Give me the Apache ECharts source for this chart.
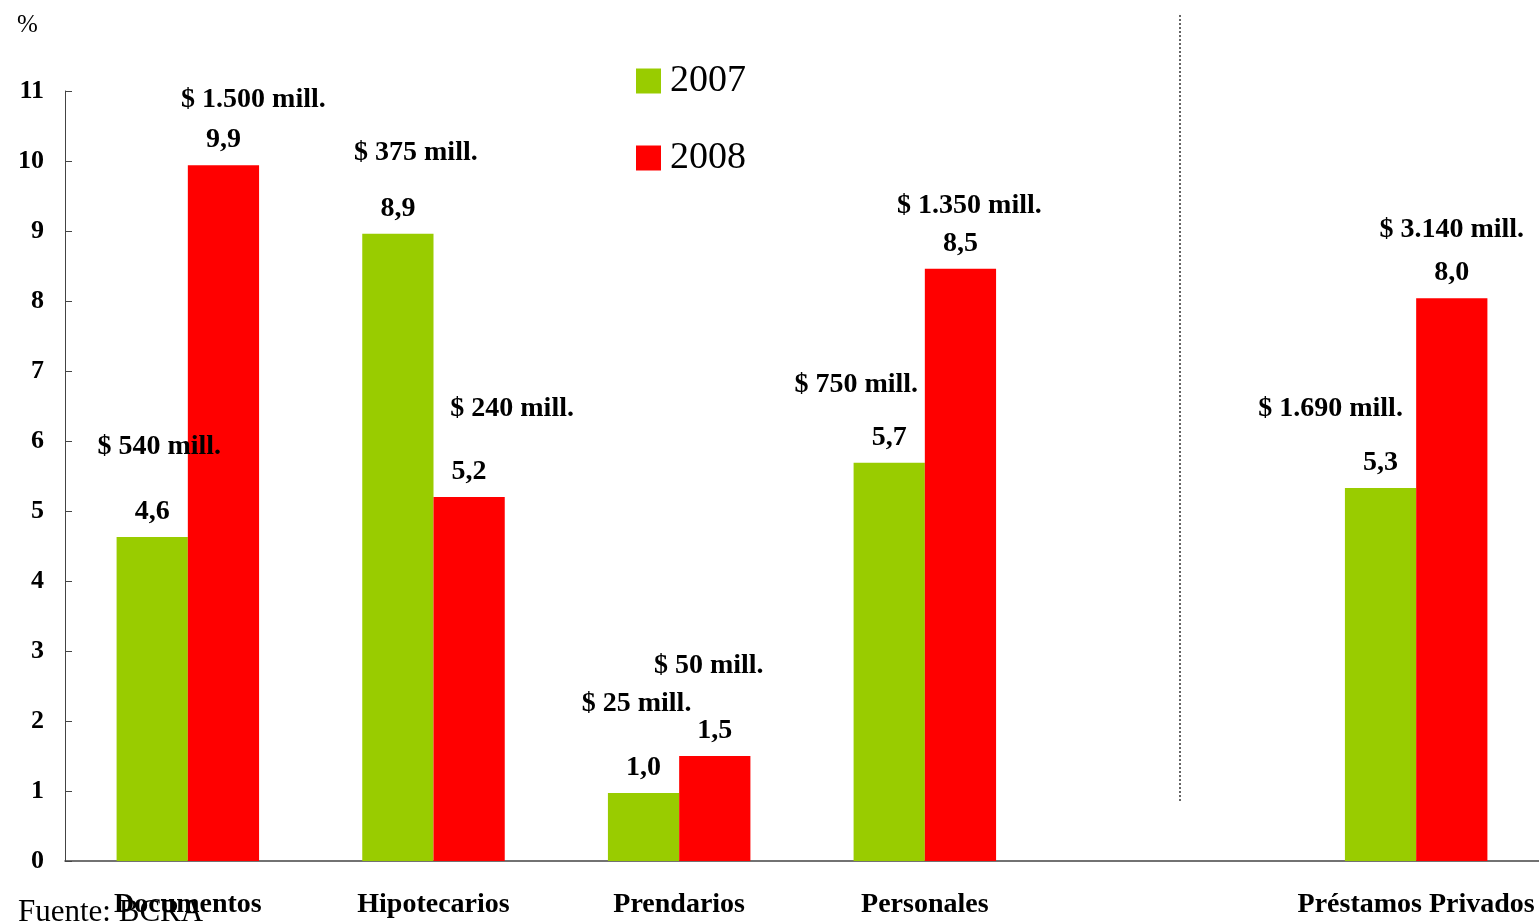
<!DOCTYPE html>
<html>
<head>
<meta charset="utf-8">
<script src="https://cdn.jsdelivr.net/npm/echarts@6/dist/echarts.min.js"></script>
<style>html,body{margin:0;padding:0;background:#fff}#c{width:1539px;height:921px}</style>
</head>
<body>
<div id="c"></div>
<script>
// ---- data ----
const categories = ['Documentos', 'Hipotecarios', 'Prendarios', 'Personales', '', 'Préstamos Privados'];
const values2007 = [4.63, 8.96, 0.97, 5.69, '-', 5.33];
const values2008 = [9.94, 5.20, 1.50, 8.46, '-', 8.04];
const valueLabels2007 = ['4,6', '8,9', '1,0', '5,7', '', '5,3'];
const valueLabels2008 = ['9,9', '5,2', '1,5', '8,5', '', '8,0'];
const amount2007 = ['$ 540 mill.', '$ 375 mill.', '$ 25 mill.', '$ 750 mill.', '', '$ 1.690 mill.'];
const amount2008 = ['$ 1.500 mill.', '$ 240 mill.', '$ 50 mill.', '$ 1.350 mill.', '', '$ 3.140 mill.'];
const yTicks = [0, 1, 2, 3, 4, 5, 6, 7, 8, 9, 10, 11];

// ---- label layout (style only) ----
const amountShiftX2007 = [7, 18, -7, -33, 0, -50];
const amountRise2007 = [92, 83, 91, 80, 0, 81];
const amountShiftX2008 = [30, 43, -6, 9, 0, 0];
const amountRise2008 = [67, 90, 92, 65, 0, 70];

const FONT = 'Liberation Serif';

function buildData(vals, vLabels, amounts, shiftX, rise) {
  return vals.map((v, i) => {
    if (v === '-') return '-';
    const lh = 2 * (rise[i] - 44);
    const dx = shiftX[i];
    const pad = dx >= 0 ? [0, 0, 0, 2 * dx] : [0, -2 * dx, 0, 0];
    return {
      value: v,
      label: {
        formatter: '{m|' + amounts[i] + '}\n{v|' + vLabels[i] + '}',
        rich: {
          m: { fontFamily: FONT, fontWeight: 'bold', fontSize: 28, color: '#000', lineHeight: lh, padding: pad },
          v: { fontFamily: FONT, fontWeight: 'bold', fontSize: 28, color: '#000', lineHeight: 34 }
        }
      }
    };
  });
}

const chart = echarts.init(document.getElementById('c'));
chart.setOption({
  animation: false,
  backgroundColor: '#fff',
  title: {
    text: '%', left: 17, top: 13, padding: [0, 0, 0, 0],
    textStyle: { fontFamily: FONT, fontWeight: 'normal', fontSize: 25, color: '#000' }
  },
  legend: {
    orient: 'vertical', left: 636, top: 61, padding: 0,
    icon: 'rect', itemWidth: 25, itemHeight: 25, itemGap: 37,
    textStyle: { fontFamily: FONT, fontSize: 38, color: '#000', lineHeight: 40, padding: [0, 0, 0, 4] },
    data: ['2007', '2008']
  },
  grid: { left: 65, right: 0, top: 91, bottom: 60, containLabel: false },
  xAxis: {
    type: 'category',
    data: categories,
    axisLine: { show: true, lineStyle: { color: '#444', width: 1.5 } },
    axisTick: { show: false },
    axisLabel: { interval: 0, margin: 30, fontFamily: FONT, fontWeight: 'bold', fontSize: 28, color: '#000' }
  },
  yAxis: {
    type: 'value', min: 0, max: 11, interval: 1,
    axisLine: { show: true, lineStyle: { color: '#444', width: 1 } },
    axisTick: { show: true, inside: true, length: 7, lineStyle: { color: '#444' } },
    splitLine: { show: false },
    axisLabel: {
      margin: 21, fontFamily: FONT, fontWeight: 'bold', fontSize: 26, color: '#000',
      formatter: v => (yTicks.indexOf(v) >= 0 ? String(v) : '')
    }
  },
  series: [
    {
      name: '2007', type: 'bar', barGap: '0%', barCategoryGap: '42%',
      itemStyle: { color: '#99CC00' },
      label: { show: true, position: 'top', distance: 8 },
      data: buildData(values2007, valueLabels2007, amount2007, amountShiftX2007, amountRise2007)
    },
    {
      name: '2008', type: 'bar', barGap: '0%', barCategoryGap: '42%',
      itemStyle: { color: '#FF0000' },
      label: { show: true, position: 'top', distance: 8 },
      data: buildData(values2008, valueLabels2008, amount2008, amountShiftX2008, amountRise2008)
    }
  ],
  graphic: [
    {
      type: 'line', z: 100,
      shape: { x1: 1180, y1: 15, x2: 1180, y2: 803 },
      style: { stroke: '#333', lineWidth: 1.5, lineDash: [2, 2] }
    },
    {
      type: 'text', left: 18, top: 897, z: 100,
      style: { text: 'Fuente: BCRA', font: 'normal 31px "Liberation Serif"', fill: '#000' }
    }
  ]
});
</script>
</body>
</html>
